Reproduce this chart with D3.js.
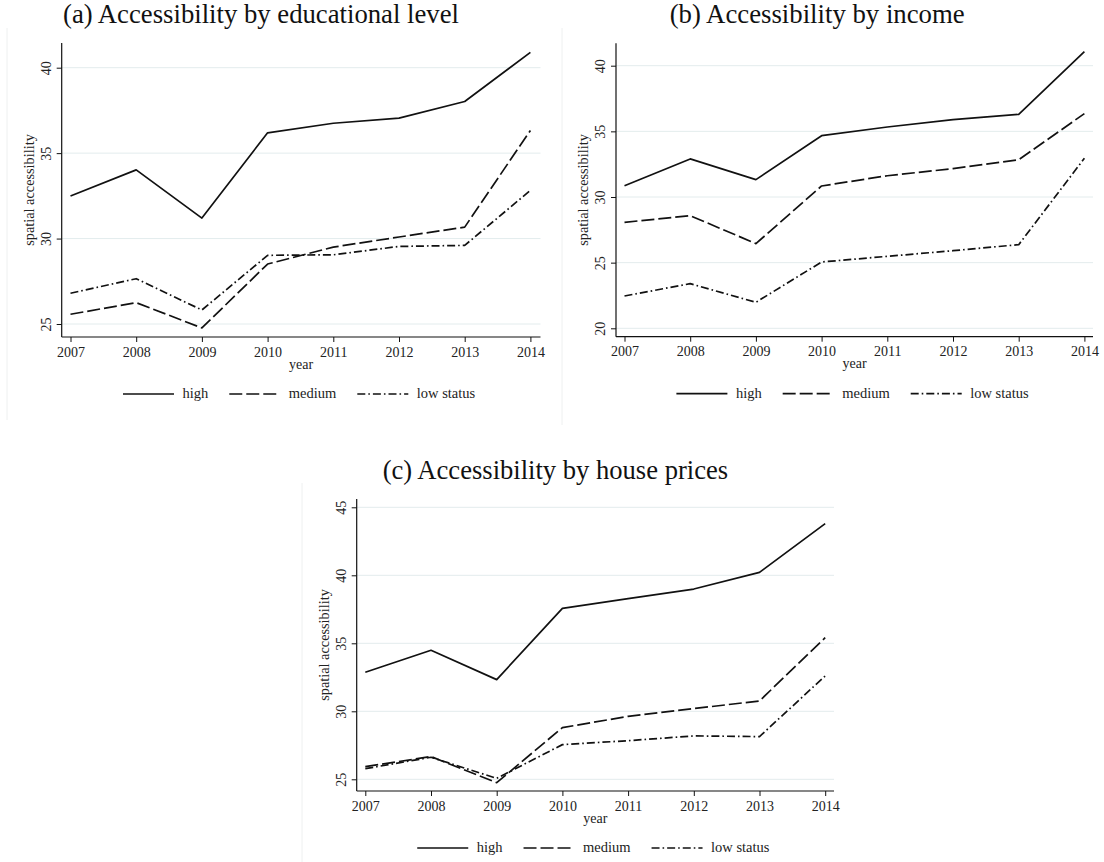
<!DOCTYPE html>
<html><head><meta charset="utf-8">
<script src="https://cdn.jsdelivr.net/npm/d3@7"></script>
<style>body{margin:0;background:#fff}svg{display:block}</style>
</head><body>
<svg id="c" width="1104" height="862"></svg>
<script>
// ---- data ----
const years = [2007, 2008, 2009, 2010, 2011, 2012, 2013, 2014];
const seriesNames = ["high", "medium", "low status"];
const eduHigh   = [32.49, 34.02, 31.20, 36.19, 36.75, 37.05, 38.02, 40.90];
const eduMedium = [25.57, 26.25, 24.77, 28.51, 29.50, 30.09, 30.67, 36.33];
const eduLow    = [26.80, 27.65, 25.82, 29.02, 29.05, 29.54, 29.60, 32.82];
const incHigh   = [30.86, 32.90, 31.32, 34.67, 35.33, 35.89, 36.30, 41.07];
const incMedium = [28.07, 28.58, 26.45, 30.84, 31.62, 32.16, 32.84, 36.35];
const incLow    = [22.46, 23.40, 21.98, 25.05, 25.48, 25.91, 26.37, 32.95];
const houseHigh   = [32.87, 34.49, 32.33, 37.57, 38.28, 38.99, 40.22, 43.80];
const houseMedium = [25.93, 26.67, 24.75, 28.80, 29.63, 30.20, 30.76, 35.42];
const houseLow    = [25.78, 26.62, 25.07, 27.55, 27.84, 28.19, 28.14, 32.60];
const eduTicks = [25, 30, 35, 40];
const incTicks = [20, 25, 30, 35, 40];
const houseTicks = [25, 30, 35, 40, 45];
const panelTitles = ["(a) Accessibility by educational level", "(b) Accessibility by income", "(c) Accessibility by house prices"];
const xLabel = "year";
const yLabel = "spatial accessibility";

// ---- layout ----
const panels = [
  {title: panelTitles[0], series: [eduHigh, eduMedium, eduLow], ticks: eduTicks,
   axisX: 61.7, right: 540.5, x0: 70.5, x1: 530.4, top: 43, bottom: 337,
   yd: [25, 40], yr: [324, 67.7], titleX: 63, titleY: 23, titleW: 396,
   border: {x: 7, y1: 28, y2: 420}},
  {title: panelTitles[1], series: [incHigh, incMedium, incLow], ticks: incTicks,
   axisX: 616, right: 1093, x0: 624.5, x1: 1084.4, top: 43.3, bottom: 336.7,
   yd: [20, 40], yr: [328.3, 65.7], titleX: 669.7, titleY: 23, titleW: 295,
   border: {x: 562, y1: 28, y2: 425}},
  {title: panelTitles[2], series: [houseHigh, houseMedium, houseLow], ticks: houseTicks,
   axisX: 356.7, right: 834, x0: 365.3, x1: 825.2, top: 499, bottom: 791,
   yd: [25, 45], yr: [779.3, 507.3], titleX: 382.7, titleY: 479, titleW: 345.6,
   border: {x: 302, y1: 483, y2: 862}}
];
const dashes = [null, "13,4", "8,3,1.6,3"];
const ink = "#111";
const serif = "'Liberation Serif', 'Times New Roman', serif";

const svg = d3.select("#c");

function drawPanel(p) {
  const g = svg.append("g");
  const x = d3.scaleLinear().domain([years[0], years[years.length - 1]]).range([p.x0, p.x1]);
  const y = d3.scaleLinear().domain(p.yd).range(p.yr);

  // faint panel border
  g.append("line").attr("x1", p.border.x).attr("x2", p.border.x)
    .attr("y1", p.border.y1).attr("y2", p.border.y2)
    .attr("stroke", "#eef0f0").attr("stroke-width", 1);

  // gridlines
  g.selectAll("line.grid").data(p.ticks).join("line").attr("class", "grid")
    .attr("x1", p.axisX).attr("x2", p.right)
    .attr("y1", d => y(d)).attr("y2", d => y(d))
    .attr("stroke", "#e3eced").attr("stroke-width", 1);

  // y axis
  const ya = g.append("g").attr("transform", `translate(${p.axisX},0)`)
    .call(d3.axisLeft(y).tickValues(p.ticks).tickSize(5).tickSizeOuter(0));
  ya.select(".domain").remove();
  ya.selectAll(".tick line").attr("stroke", ink).attr("stroke-width", 1);
  ya.selectAll(".tick text")
    .attr("transform", "rotate(-90)")
    .attr("x", 0).attr("y", -11).attr("dy", 0)
    .attr("text-anchor", "middle")
    .style("font-family", serif).style("font-size", "14px").attr("fill", "#222");

  // x axis
  const xa = g.append("g").attr("transform", `translate(0,${p.bottom})`)
    .call(d3.axisBottom(x).tickValues(years).tickFormat(d3.format("d")).tickSize(5).tickSizeOuter(0));
  xa.select(".domain").remove();
  xa.selectAll(".tick line").attr("stroke", ink).attr("stroke-width", 1);
  xa.selectAll(".tick text").attr("y", 19.5).attr("dy", 0)
    .style("font-family", serif).style("font-size", "14px").attr("fill", "#222");

  // axis lines
  g.append("line").attr("x1", p.axisX).attr("x2", p.axisX).attr("y1", p.top).attr("y2", p.bottom)
    .attr("stroke", ink).attr("stroke-width", 1.2);
  g.append("line").attr("x1", p.axisX).attr("x2", p.right).attr("y1", p.bottom).attr("y2", p.bottom)
    .attr("stroke", ink).attr("stroke-width", 1.2);

  // axis titles
  g.append("text").text(xLabel).attr("x", (p.axisX + p.right) / 2).attr("y", p.bottom + 31.5)
    .attr("text-anchor", "middle").style("font-family", serif).style("font-size", "14px").attr("fill", "#222");
  g.append("text").text(yLabel)
    .attr("transform", `translate(${p.axisX - 28},${(p.top + p.bottom) / 2}) rotate(-90)`)
    .attr("text-anchor", "middle").style("font-family", serif).style("font-size", "14.3px").attr("fill", "#222");

  // series lines
  const line = d3.line().x((d, i) => x(years[i])).y(d => y(d));
  p.series.forEach((s, k) => {
    g.append("path").attr("d", line(s)).attr("fill", "none")
      .attr("stroke", ink).attr("stroke-width", 1.7)
      .attr("stroke-linejoin", "round")
      .attr("stroke-dasharray", dashes[k]);
  });

  // legend
  const lg = g.append("g");
  const ly = p.bottom + 57;
  const items = [];
  seriesNames.forEach((name, k) => {
    const it = lg.append("g");
    it.append("line").attr("x1", 0).attr("x2", 51).attr("y1", 0).attr("y2", 0)
      .attr("stroke", ink).attr("stroke-width", 1.7).attr("stroke-dasharray", dashes[k]);
    const t = it.append("text").text(name).attr("x", 59.5).attr("y", 4.3)
      .style("font-family", serif).style("font-size", "14.5px").attr("fill", "#222");
    const w = 59.5 + t.node().getComputedTextLength();
    items.push({it, w});
  });
  const gap = 21;
  const total = d3.sum(items, d => d.w) + gap * (items.length - 1);
  let start = (p.axisX + p.right) / 2 - 2 - total / 2;
  items.forEach(d => { d.it.attr("transform", `translate(${start},${ly})`); start += d.w + gap; });

  // title
  const tt = svg.append("text").text(p.title).attr("x", p.titleX).attr("y", p.titleY)
    .attr("text-anchor", "start").style("font-family", serif).style("font-size", "20px").attr("fill", "#111");
  const w20 = tt.node().getComputedTextLength();
  tt.style("font-size", (20 * p.titleW / w20).toFixed(2) + "px");
}

panels.forEach(drawPanel);
</script>
</body></html>
